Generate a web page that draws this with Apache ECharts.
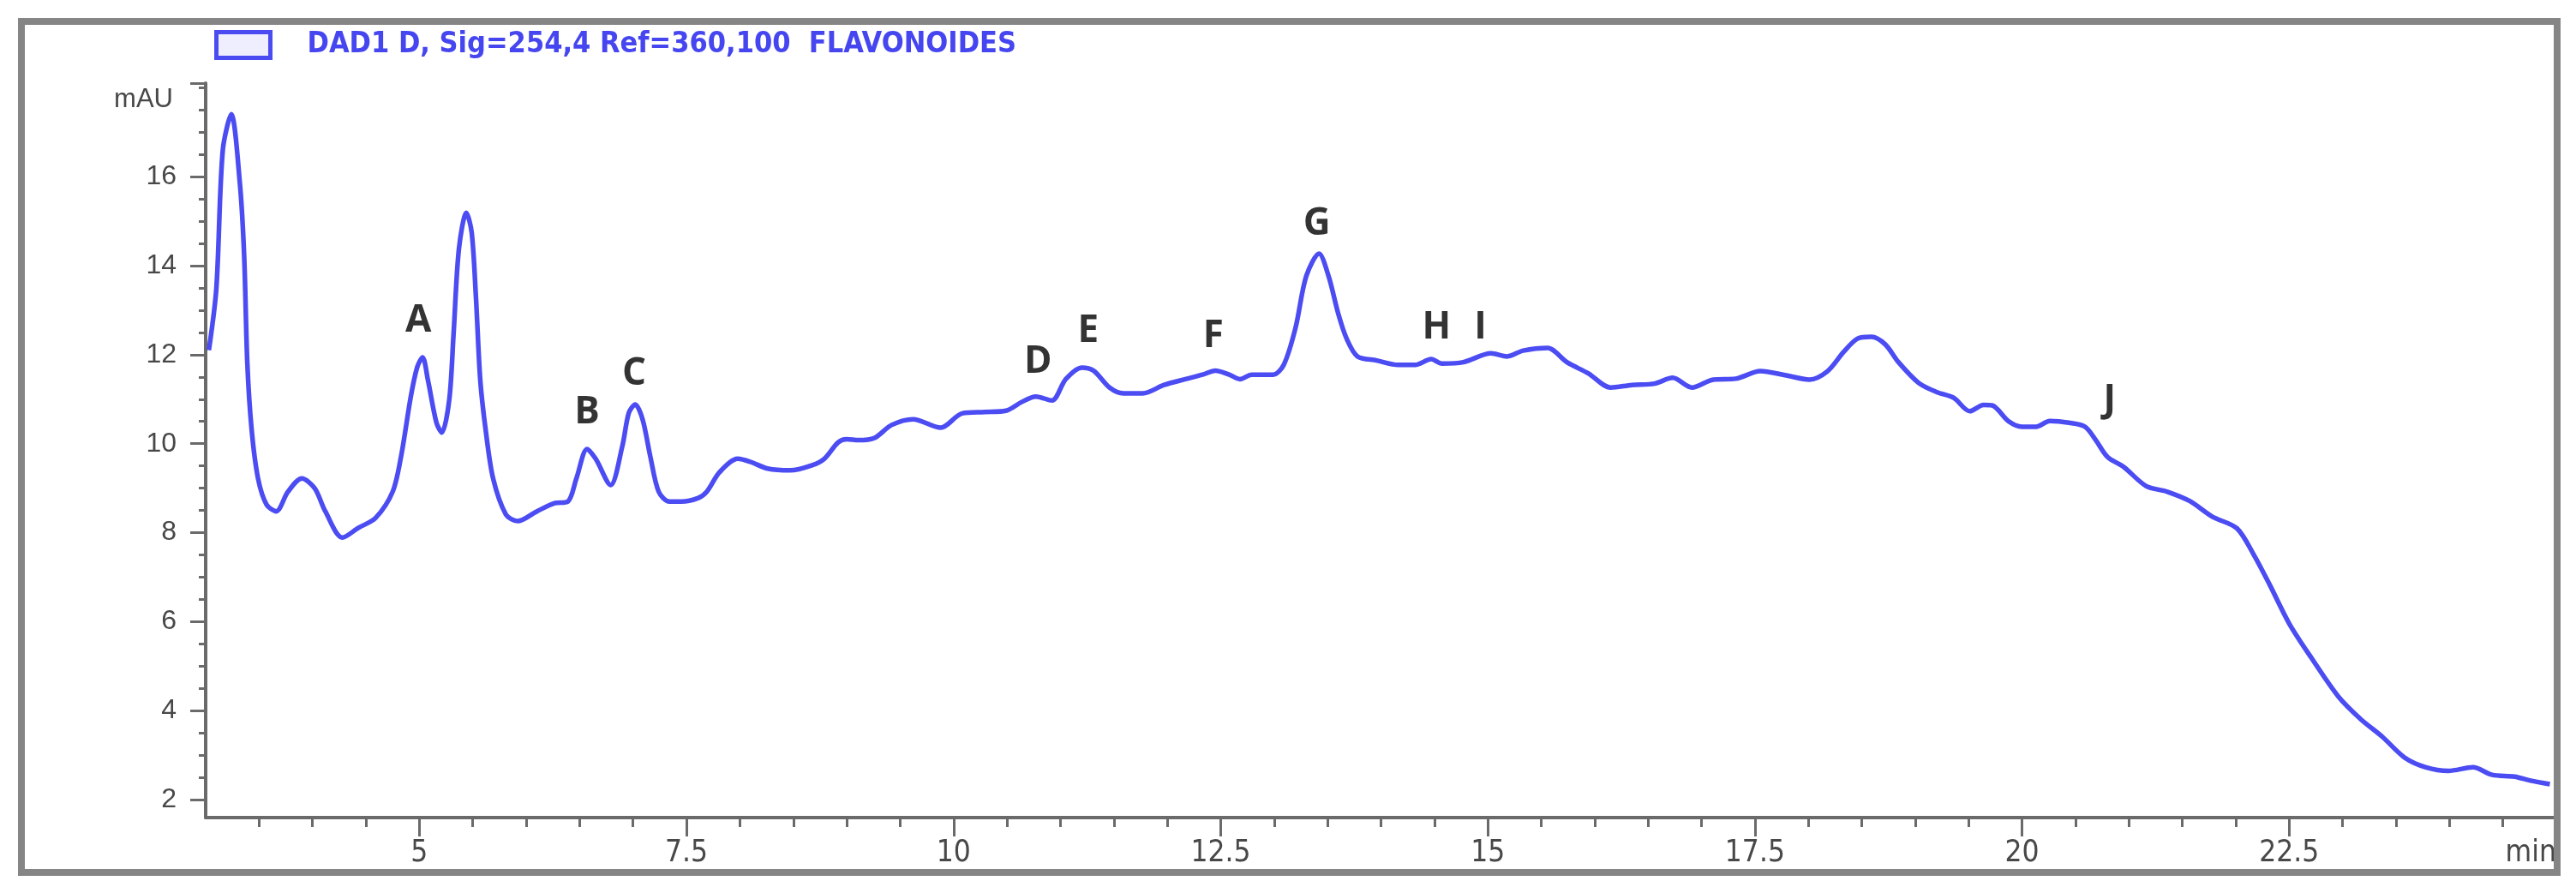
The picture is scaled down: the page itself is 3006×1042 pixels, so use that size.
<!DOCTYPE html>
<html>
<head>
<meta charset="utf-8">
<title>DAD1 D chromatogram</title>
<script src="https://cdn.jsdelivr.net/npm/echarts@6/dist/echarts.min.js"></script>
<style>
  html, body { margin: 0; padding: 0; background: #fff; }
  #chart { width: 3006px; height: 1042px; }
</style>
</head>
<body>
<div id="chart"></div>
<script>
// retention time (min) and signal (mAU)
const timeMin = [
  3.03, 3.10, 3.16, 3.24, 3.32, 3.36, 3.39, 3.43, 3.49, 3.57, 3.66, 3.77, 3.90, 4.02, 4.12, 4.28,
  4.43, 4.59, 4.75, 4.83, 4.92, 4.98, 5.03, 5.08, 5.16, 5.21, 5.28, 5.32, 5.37, 5.44, 5.49, 5.53,
  5.57, 5.62, 5.69, 5.81, 5.92, 6.10, 6.26, 6.39, 6.47, 6.57, 6.65, 6.79, 6.90, 6.96, 7.02, 7.09,
  7.16, 7.24, 7.34, 7.45, 7.61, 7.69, 7.81, 7.98, 8.10, 8.26, 8.47, 8.67, 8.79, 8.92, 9.00, 9.11,
  9.26, 9.42, 9.62, 9.88, 10.08, 10.29, 10.49, 10.64, 10.77, 10.92, 11.05, 11.20, 11.31, 11.46, 11.59, 11.77,
  11.97, 12.17, 12.33, 12.45, 12.58, 12.68, 12.79, 12.99, 13.09, 13.20, 13.30, 13.42, 13.51, 13.60, 13.68, 13.78,
  13.96, 14.16, 14.32, 14.47, 14.57, 14.77, 15.03, 15.18, 15.33, 15.56, 15.74, 15.94, 16.15, 16.35, 16.56, 16.73,
  16.91, 17.11, 17.32, 17.55, 17.78, 18.01, 18.18, 18.33, 18.46, 18.59, 18.72, 18.84, 19.03, 19.20, 19.36, 19.51,
  19.64, 19.72, 19.87, 20.00, 20.13, 20.26, 20.44, 20.59, 20.69, 20.80, 20.95, 21.16, 21.36, 21.57, 21.78, 22.01,
  22.17, 22.32, 22.50, 22.71, 22.96, 23.17, 23.37, 23.58, 23.78, 23.99, 24.22, 24.40, 24.61, 24.76, 24.94
];
const signalMAU = [
  12.10, 13.49, 16.59, 17.40, 15.85, 14.23, 11.80, 10.32, 9.22, 8.63, 8.48, 8.92, 9.22, 9.00, 8.48, 7.89,
  8.11, 8.33, 8.92, 9.73, 11.06, 11.72, 11.94, 11.43, 10.47, 10.25, 10.99, 12.46, 14.37, 15.19, 14.74, 13.27,
  11.43, 10.32, 9.22, 8.41, 8.26, 8.48, 8.66, 8.70, 9.22, 9.88, 9.66, 9.07, 9.95, 10.69, 10.88, 10.54,
  9.73, 8.92, 8.70, 8.70, 8.78, 8.92, 9.36, 9.66, 9.59, 9.44, 9.40, 9.51, 9.66, 10.03, 10.10, 10.08,
  10.13, 10.42, 10.55, 10.36, 10.68, 10.71, 10.74, 10.94, 11.06, 10.97, 11.45, 11.71, 11.64, 11.26, 11.13, 11.13,
  11.32, 11.45, 11.55, 11.64, 11.55, 11.45, 11.55, 11.55, 11.77, 12.60, 13.76, 14.27, 13.76, 12.92, 12.35, 11.96,
  11.87, 11.77, 11.77, 11.90, 11.80, 11.83, 12.03, 11.96, 12.09, 12.15, 11.83, 11.58, 11.26, 11.32, 11.35, 11.48,
  11.26, 11.44, 11.46, 11.63, 11.54, 11.44, 11.63, 12.06, 12.36, 12.40, 12.23, 11.84, 11.37, 11.16, 11.03, 10.73,
  10.87, 10.86, 10.51, 10.38, 10.38, 10.51, 10.47, 10.38, 10.08, 9.70, 9.48, 9.05, 8.92, 8.71, 8.36, 8.10,
  7.50, 6.82, 5.96, 5.18, 4.32, 3.81, 3.42, 2.95, 2.73, 2.65, 2.73, 2.56, 2.52, 2.43, 2.35
];

// peak letters and where they are written
const peakNames = ['A', 'B', 'C', 'D', 'E', 'F', 'G', 'H', 'I', 'J'];
const peakTimes = [4.99, 6.57, 7.01, 10.79, 11.26, 12.43, 13.40, 14.52, 14.93, 20.82];
const peakLabelLevels = [12.75, 10.69, 11.56, 11.84, 12.53, 12.42, 14.94, 12.61, 12.61, 10.97];

// axis ticks
const xMajorTicks = [5, 7.5, 10, 12.5, 15, 17.5, 20, 22.5];
const yMajorTicks = [2, 4, 6, 8, 10, 12, 14, 16];
const xMin = 3, xMax = 25;
const yMin = 1.6, yMax = 18.1;

const traceName = 'DAD1 D, Sig=254,4 Ref=360,100  FLAVONOIDES';

const xMinorTicks = [];
for (let t = xMin + 0.5; t < xMax; t += 0.5) xMinorTicks.push(t);
const yMinorTicks = [];
for (let v = 2; v <= 18; v += 0.5) yMinorTicks.push(v);

const trace = timeMin.map((t, i) => [t, signalMAU[i]]);
const peaks = peakNames.map((n, i) => [peakTimes[i], peakLabelLevels[i], n]);

const axisGray = '#6a6a6a';
const labelGray = '#484848';
const narrowFont = "'Liberation Sans Narrow', 'DejaVu Sans Condensed', 'Liberation Sans', sans-serif";
const plainFont = "'Liberation Sans', Arial, sans-serif";

const chart = echarts.init(document.getElementById('chart'));
chart.setOption({
  animation: false,
  backgroundColor: '#ffffff',
  grid: { left: 240, right: 23, top: 97, bottom: 88 },
  legend: {
    data: [traceName],
    left: 245,
    top: 30,
    icon: 'rect',
    itemWidth: 63,
    itemHeight: 30,
    itemStyle: { color: '#eeeeff', borderColor: '#4b4bf2', borderWidth: 5 },
    textStyle: {
      color: '#4646f0',
      fontFamily: narrowFont,
      fontWeight: 'bold',
      fontSize: 34,
      padding: [0, 0, 0, 38]
    }
  },
  xAxis: [
    {
      type: 'value', min: xMin, max: xMax, position: 'bottom',
      name: 'min', nameLocation: 'end', nameGap: 0,
      nameTextStyle: {
        color: labelGray, fontFamily: narrowFont, fontSize: 35,
        align: 'right', verticalAlign: 'top', padding: [24, 0, 0, 0]
      },
      splitLine: { show: false },
      axisLine: { show: true, lineStyle: { color: axisGray, width: 4 } },
      axisTick: { show: true, customValues: xMajorTicks, length: 22, lineStyle: { color: axisGray, width: 3 } },
      axisLabel: {
        customValues: xMajorTicks, margin: 24, color: labelGray,
        fontFamily: narrowFont, fontSize: 35
      }
    },
    {
      type: 'value', min: xMin, max: xMax, position: 'bottom',
      splitLine: { show: false },
      axisLine: { show: false },
      axisTick: { show: true, customValues: xMinorTicks, length: 11, lineStyle: { color: axisGray, width: 3 } },
      axisLabel: { show: false }
    }
  ],
  yAxis: [
    {
      type: 'value', min: yMin, max: yMax, position: 'left',
      name: 'mAU', nameLocation: 'end', nameGap: -19,
      nameTextStyle: {
        color: labelGray, fontFamily: plainFont, fontSize: 31,
        align: 'right', verticalAlign: 'middle', padding: [0, 38, 0, 0]
      },
      splitLine: { show: false },
      axisLine: { show: true, lineStyle: { color: axisGray, width: 4 } },
      axisTick: { show: true, customValues: yMajorTicks.concat([yMax]), length: 18, lineStyle: { color: axisGray, width: 3 } },
      axisLabel: {
        customValues: yMajorTicks, margin: 34, color: labelGray,
        fontFamily: plainFont, fontSize: 32
      }
    },
    {
      type: 'value', min: yMin, max: yMax, position: 'left',
      splitLine: { show: false },
      axisLine: { show: false },
      axisTick: { show: true, customValues: yMinorTicks, length: 8, lineStyle: { color: axisGray, width: 3 } },
      axisLabel: { show: false }
    }
  ],
  graphic: [
    {
      type: 'rect', silent: true, z: 100,
      shape: { x: 25, y: 25, width: 2959, height: 993 },
      style: { fill: 'none', stroke: '#858585', lineWidth: 8 }
    }
  ],
  series: [
    {
      name: traceName,
      type: 'line',
      xAxisIndex: 0, yAxisIndex: 0,
      data: trace,
      showSymbol: false,
      smooth: 0.3,
      lineStyle: { color: '#4c4cf3', width: 5.5 },
      itemStyle: { color: '#4c4cf3' }
    },
    {
      name: 'peaks',
      type: 'scatter',
      xAxisIndex: 0, yAxisIndex: 0,
      data: peaks,
      symbolSize: 1,
      itemStyle: { color: 'transparent' },
      label: {
        show: true, position: 'inside',
        formatter: p => p.value[2],
        color: '#000000', fontFamily: "'Open Sans', sans-serif", fontWeight: 'bold', fontSize: 44
      }
    }
  ]
});
</script>
</body>
</html>
